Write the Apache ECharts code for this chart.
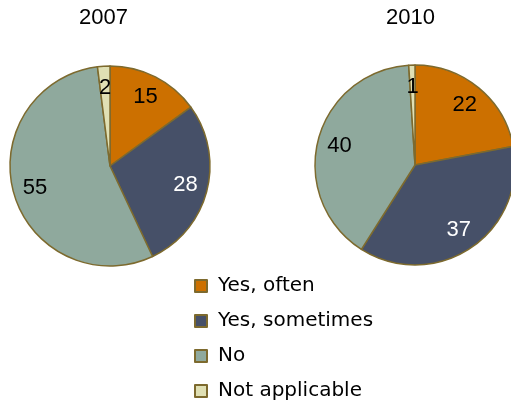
<!DOCTYPE html>
<html>
<head>
<meta charset="utf-8">
<script src="https://cdn.jsdelivr.net/npm/echarts@6/dist/echarts.min.js"></script>
<style>
  html, body { margin: 0; padding: 0; background: #fff; }
  #chart { width: 511px; height: 407px; }
</style>
</head>
<body>
<div id="chart"></div>
<script>
// answer categories
var categories = ['Yes, often', 'Yes, sometimes', 'No', 'Not applicable'];
// percentages per year
var years = ['2007', '2010'];
var values2007 = [15, 28, 55, 2];
var values2010 = [22, 37, 40, 1];

var colors = ['#CC7000', '#465068', '#8FA99D', '#E0E0B4'];
var labelColors = ['#000', '#fff', '#000', '#000'];
var borderColor = '#7D6A2E';
var font = '"Liberation Sans", Arial, sans-serif';

var chart = echarts.init(document.getElementById('chart'));

function pieData(values, withLabel) {
  return categories.map(function (name, i) {
    var item = { name: name, value: values[i] };
    if (withLabel) {
      item.label = { color: labelColors[i] };
    }
    return item;
  });
}

// base pie (fill + border)
function basePie(values, center) {
  return {
    type: 'pie',
    center: center,
    radius: [0, 100],
    startAngle: 90,
    clockwise: true,
    avoidLabelOverlap: false,
    animation: false,
    itemStyle: { borderColor: borderColor, borderWidth: 1.5 },
    label: { show: false },
    labelLine: { show: false },
    emphasis: { disabled: true },
    data: pieData(values, false)
  };
}

// transparent ring only used to push the labels further out
function labelRing(values, center) {
  return {
    type: 'pie',
    center: center,
    radius: [50, 100],
    startAngle: 90,
    clockwise: true,
    silent: true,
    animation: false,
    avoidLabelOverlap: false,
    itemStyle: { color: 'rgba(0,0,0,0)', borderWidth: 0 },
    label: {
      show: true,
      position: 'inside',
      formatter: '{c}',
      fontFamily: font,
      fontSize: 22
    },
    labelLine: { show: false },
    emphasis: { disabled: true },
    data: pieData(values, true)
  };
}

var titleStyle = { fontFamily: font, fontSize: 22, fontWeight: 'normal', color: '#000' };

var option = {
  color: colors,
  title: [
    { text: years[0], left: 79, top: 7, padding: 0, textStyle: titleStyle },
    { text: years[1], left: 386, top: 7, padding: 0, textStyle: titleStyle }
  ],
  legend: {
    orient: 'vertical',
    left: 194,
    top: 276,
    padding: 0,
    itemWidth: 12,
    itemHeight: 12,
    itemGap: 15,
    icon: 'rect',
    selectedMode: false,
    textStyle: { fontFamily: '"DejaVu Sans", sans-serif', fontSize: 20, color: '#000', padding: [0, 0, 0, 6] },
    data: categories
  },
  series: [
    basePie(values2007, [110, 166]),
    basePie(values2010, [415, 165]),
    labelRing(values2007, [110, 166]),
    labelRing(values2010, [415, 165])
  ]
};

chart.setOption(option);
</script>
</body>
</html>
